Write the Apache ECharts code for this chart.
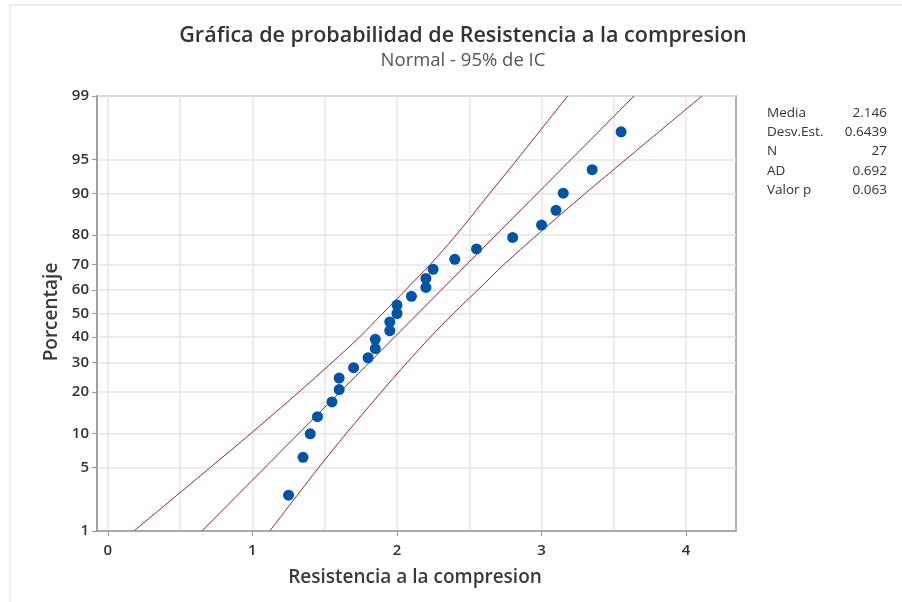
<!DOCTYPE html>
<html>
<head>
<meta charset="utf-8">
<script src="https://cdn.jsdelivr.net/npm/echarts@6/dist/echarts.min.js"></script>
<style>
  html, body { margin: 0; padding: 0; background: #fff; }
  #chart { width: 902px; height: 602px; }
</style>
</head>
<body>
<div id="chart"></div>
<script>
// valores de la muestra (ordenados) y su porcentaje en la grafica
var resistencia = [1.25, 1.35, 1.4, 1.45, 1.55, 1.6, 1.6, 1.7, 1.8, 1.85, 1.85, 1.95, 1.95, 2.0,
  2.0, 2.1, 2.2, 2.2, 2.25, 2.4, 2.55, 2.8, 3.0, 3.1, 3.15, 3.35, 3.55];
var porcentaje = [2.6, 6.2, 9.9, 13.5, 17.2, 20.8, 24.5, 28.1, 31.8, 35.4, 39.1, 42.7, 46.4, 50.0,
  53.6, 57.3, 61.0, 64.6, 68.2, 71.9, 75.5, 79.2, 82.8, 86.5, 90.1, 93.8, 97.4];

var ajustePct = [1, 99];
var ajusteX = [0.65, 3.64];
var bandaPct = [1, 5, 10, 20, 30, 40, 50, 60, 70, 80, 90, 95, 99];
var bandaInf = [0.18, 0.71, 0.99, 1.32, 1.55, 1.74, 1.90, 2.06, 2.23, 2.41, 2.64, 2.83, 3.18];
var bandaSup = [1.12, 1.46, 1.65, 1.89, 2.07, 2.23, 2.39, 2.56, 2.74, 2.97, 3.30, 3.58, 4.11];

var yTicks = [1, 5, 10, 20, 30, 40, 50, 60, 70, 80, 90, 95, 99];
var xTicks = [0, 1, 2, 3, 4];
var xGrid = [0, 0.5, 1, 1.5, 2, 2.5, 3, 3.5, 4];

var stats = [
  ["Media", "2.146"],
  ["Desv.Est.", "0.6439"],
  ["N", "27"],
  ["AD", "0.692"],
  ["Valor p", "0.063"]
];

// inversa de la normal (escala de probabilidad)
function probit(p) {
  var a = [-3.969683028665376e+01, 2.209460984245205e+02, -2.759285104469687e+02, 1.383577518672690e+02, -3.066479806614716e+01, 2.506628277459239e+00];
  var b = [-5.447609879822406e+01, 1.615858368580409e+02, -1.556989798598866e+02, 6.680131188771972e+01, -1.328068155288572e+01];
  var c = [-7.784894002430293e-03, -3.223964580411365e-01, -2.400758277161838e+00, -2.549732539343734e+00, 4.374664141464968e+00, 2.938163982698783e+00];
  var d = [7.784695709041462e-03, 3.224671290700398e-01, 2.445134137142996e+00, 3.754408661907416e+00];
  var pl = 0.02425, q, r;
  if (p < pl) {
    q = Math.sqrt(-2 * Math.log(p));
    return (((((c[0] * q + c[1]) * q + c[2]) * q + c[3]) * q + c[4]) * q + c[5]) / ((((d[0] * q + d[1]) * q + d[2]) * q + d[3]) * q + 1);
  }
  if (p <= 1 - pl) {
    q = p - 0.5; r = q * q;
    return (((((a[0] * r + a[1]) * r + a[2]) * r + a[3]) * r + a[4]) * r + a[5]) * q / (((((b[0] * r + b[1]) * r + b[2]) * r + b[3]) * r + b[4]) * r + 1);
  }
  q = Math.sqrt(-2 * Math.log(1 - p));
  return -(((((c[0] * q + c[1]) * q + c[2]) * q + c[3]) * q + c[4]) * q + c[5]) / ((((d[0] * q + d[1]) * q + d[2]) * q + d[3]) * q + 1);
}

function pares(xs, pcts) {
  return xs.map(function (x, i) { return [x, probit(pcts[i] / 100)]; });
}

var yTickZ = yTicks.map(function (t) { return probit(t / 100); });
var rojo = "#a3272b";
var font = "Open Sans";

var graphics = [
  { type: "line", shape: { x1: 10, y1: 5, x2: 902, y2: 5 }, style: { stroke: "#dcdcdc", lineWidth: 1 } },
  { type: "line", shape: { x1: 10, y1: 5, x2: 10, y2: 602 }, style: { stroke: "#dcdcdc", lineWidth: 1 } },
  { type: "text", x: 463, y: 36, style: { text: "Gráfica de probabilidad de Resistencia a la compresion", fontFamily: font, fontSize: 21.5, fontWeight: 600, fill: "#333", align: "center", verticalAlign: "middle" } },
  { type: "text", x: 463, y: 61, style: { text: "Normal - 95% de IC", fontFamily: font, fontSize: 18.5, fill: "#555", align: "center", verticalAlign: "middle" } },
  { type: "text", x: 415, y: 578, style: { text: "Resistencia a la compresion", fontFamily: font, fontSize: 19, fontWeight: 600, fill: "#3a3a3a", align: "center", verticalAlign: "middle" } },
  { type: "text", x: 52, y: 312, rotation: Math.PI / 2, style: { text: "Porcentaje", fontFamily: font, fontSize: 19, fontWeight: 600, fill: "#3a3a3a", align: "center", verticalAlign: "middle" } }
];
stats.forEach(function (s, i) {
  var y = 113 + i * 19.3;
  graphics.push({ type: "text", x: 767, y: y, style: { text: s[0], fontFamily: font, fontSize: 13.5, fill: "#333", align: "left", verticalAlign: "middle" } });
  graphics.push({ type: "text", x: 887, y: y, style: { text: s[1], fontFamily: font, fontSize: 13.5, fill: "#333", align: "right", verticalAlign: "middle" } });
});

var myChart = echarts.init(document.getElementById("chart"));
var option = {
  animation: false,
  backgroundColor: "#fff",
  grid: {
    left: 97, top: 96, right: 166, bottom: 71,
    show: true, borderColor: "#9a9a9a", borderWidth: 1.5, backgroundColor: "transparent"
  },
  xAxis: [
    {
      type: "value", min: -0.075, max: 4.345,
      axisLine: { onZero: false, lineStyle: { color: "#9a9a9a", width: 1.5 } },
      axisTick: { customValues: xTicks, length: 5, lineStyle: { color: "#9a9a9a" } },
      axisLabel: { customValues: xTicks, color: "#333", fontFamily: font, fontSize: 15, fontWeight: 600, margin: 12 },
      splitLine: { show: false }
    },
    {
      type: "value", min: -0.075, max: 4.345, position: "bottom",
      axisLine: { show: false },
      axisTick: { show: false, customValues: xGrid },
      axisLabel: { show: false },
      splitLine: { show: true, lineStyle: { color: "#e6e6e6", width: 1.5 } }
    }
  ],
  yAxis: {
    type: "value", min: probit(0.01), max: probit(0.99),
    axisLine: { onZero: false, lineStyle: { color: "#9a9a9a", width: 1.5 } },
    axisTick: { customValues: yTickZ, length: 5, lineStyle: { color: "#9a9a9a" } },
    axisLabel: {
      customValues: yTickZ, color: "#333", fontFamily: font, fontSize: 15, fontWeight: 600, margin: 8,
      formatter: function (v) {
        for (var i = 0; i < yTicks.length; i++) {
          if (Math.abs(yTickZ[i] - v) < 1e-6) return String(yTicks[i]);
        }
        return "";
      }
    },
    splitLine: { show: true, lineStyle: { color: "#e6e6e6", width: 1.5 } }
  },
  series: [
    { name: "Ajuste", type: "line", data: pares(ajusteX, ajustePct), showSymbol: false, lineStyle: { color: rojo, width: 1 } },
    { name: "IC inf", type: "line", data: pares(bandaInf, bandaPct), smooth: 0.3, showSymbol: false, lineStyle: { color: rojo, width: 1 } },
    { name: "IC sup", type: "line", data: pares(bandaSup, bandaPct), smooth: 0.3, showSymbol: false, lineStyle: { color: rojo, width: 1 } },
    { name: "Datos", type: "scatter", data: pares(resistencia, porcentaje), symbolSize: 11, itemStyle: { color: "#0054a6", opacity: 1 }, z: 5 }
  ],
  graphic: graphics
};
myChart.setOption(option);
</script>
</body>
</html>
